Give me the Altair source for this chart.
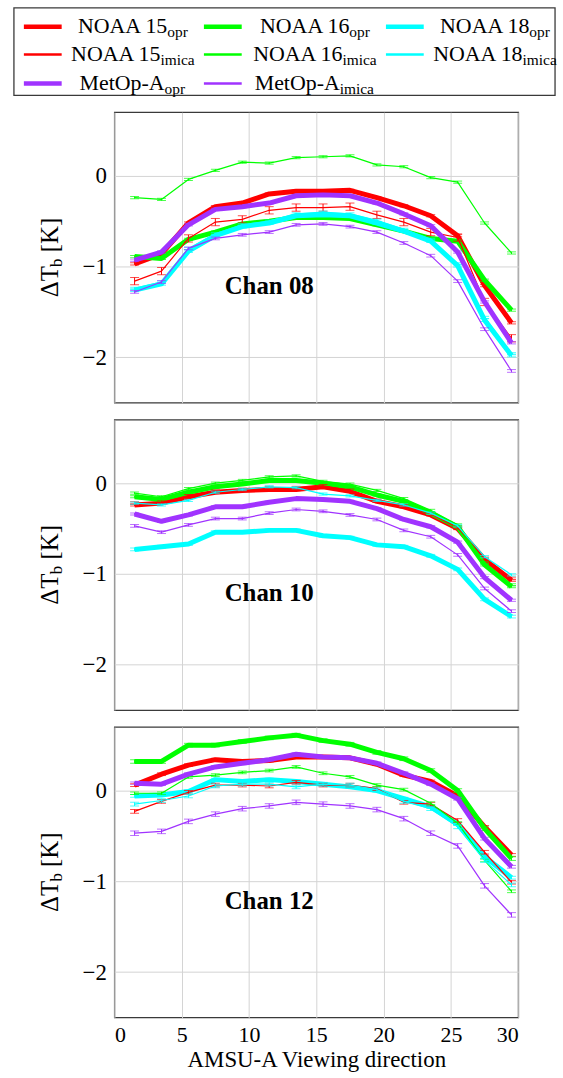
import altair as alt
import pandas as pd

# ---------------- data ----------------
x_dir = [1.5, 3.5, 5.5, 7.5, 9.5, 11.5, 13.5, 15.5, 17.5, 19.5, 21.5, 23.5, 25.5, 27.5, 29.5]

# Chan 08
c08_n15_opr   = [-0.97, -0.86, -0.52, -0.34, -0.30, -0.20, -0.17, -0.17, -0.16, -0.24, -0.33, -0.44, -0.66, -1.21, -1.62]
c08_n15_imica = [-1.16, -1.05, -0.69, -0.51, -0.48, -0.38, -0.35, -0.35, -0.34, -0.43, -0.51, -0.62, -0.68, -1.39, -1.79]
c08_n16_opr   = [-0.89, -0.91, -0.70, -0.62, -0.53, -0.50, -0.46, -0.46, -0.47, -0.54, -0.61, -0.69, -0.72, -1.15, -1.48]
c08_n16_imica = [-0.24, -0.26, -0.04, 0.06, 0.15, 0.14, 0.20, 0.21, 0.22, 0.12, 0.10, -0.02, -0.07, -0.52, -0.85]
c08_n18_opr   = [-1.26, -1.19, -0.83, -0.66, -0.56, -0.52, -0.44, -0.43, -0.44, -0.52, -0.61, -0.72, -0.99, -1.59, -1.98]
c08_n18_imica = [-1.24, -1.17, -0.80, -0.64, -0.54, -0.50, -0.42, -0.40, -0.42, -0.49, -0.59, -0.70, -0.97, -1.56, -1.96]
c08_met_opr   = [-0.93, -0.84, -0.54, -0.37, -0.34, -0.30, -0.22, -0.21, -0.22, -0.30, -0.42, -0.55, -0.84, -1.39, -1.84]
c08_met_imica = [-1.28, -1.17, -0.80, -0.69, -0.65, -0.62, -0.54, -0.53, -0.56, -0.62, -0.74, -0.88, -1.16, -1.69, -2.15]

# Chan 10
c10_n15_opr   = [-0.24, -0.22, -0.15, -0.10, -0.08, -0.07, -0.07, -0.04, -0.09, -0.20, -0.26, -0.35, -0.50, -0.84, -1.07]
c10_n15_imica = [-0.22, -0.21, -0.14, -0.09, -0.07, -0.05, -0.05, -0.03, -0.08, -0.19, -0.25, -0.34, -0.49, -0.83, -1.05]
c10_n16_opr   = [-0.15, -0.18, -0.10, -0.04, -0.01, 0.03, 0.03, 0.00, -0.04, -0.13, -0.20, -0.33, -0.48, -0.90, -1.14]
c10_n16_imica = [-0.11, -0.15, -0.06, 0.00, 0.03, 0.07, 0.08, 0.02, -0.01, -0.08, -0.17, -0.30, -0.46, -0.88, -1.12]
c10_n18_opr   = [-0.73, -0.70, -0.67, -0.54, -0.54, -0.52, -0.52, -0.58, -0.60, -0.68, -0.70, -0.80, -0.95, -1.28, -1.47]
c10_n18_imica = [-0.22, -0.24, -0.19, -0.10, -0.07, -0.04, -0.05, -0.12, -0.14, -0.19, -0.24, -0.33, -0.47, -0.81, -1.01]
c10_met_opr   = [-0.34, -0.42, -0.35, -0.26, -0.26, -0.21, -0.17, -0.18, -0.20, -0.28, -0.40, -0.48, -0.65, -1.04, -1.29]
c10_met_imica = [-0.47, -0.54, -0.46, -0.39, -0.39, -0.33, -0.29, -0.31, -0.35, -0.40, -0.52, -0.59, -0.79, -1.16, -1.41]

# Chan 12
c12_n15_opr   = [0.06, 0.18, 0.28, 0.34, 0.32, 0.33, 0.37, 0.37, 0.36, 0.29, 0.17, 0.10, -0.06, -0.40, -0.71]
c12_n15_imica = [-0.23, -0.12, -0.02, 0.06, 0.06, 0.05, 0.09, 0.06, 0.06, 0.02, -0.13, -0.15, -0.33, -0.68, -1.01]
c12_n16_opr   = [0.32, 0.32, 0.50, 0.50, 0.54, 0.58, 0.61, 0.55, 0.51, 0.42, 0.35, 0.22, 0.00, -0.42, -0.75]
c12_n16_imica = [-0.03, -0.03, 0.15, 0.17, 0.20, 0.22, 0.26, 0.19, 0.15, 0.06, 0.01, -0.14, -0.36, -0.77, -1.11]
c12_n18_opr   = [-0.06, -0.05, -0.01, 0.12, 0.10, 0.12, 0.10, 0.07, 0.04, 0.00, -0.09, -0.18, -0.37, -0.73, -0.96]
c12_n18_imica = [-0.15, -0.11, -0.06, 0.05, 0.07, 0.07, 0.04, 0.07, 0.06, 0.01, -0.12, -0.20, -0.40, -0.77, -1.04]
c12_met_opr   = [0.08, 0.07, 0.18, 0.26, 0.30, 0.34, 0.40, 0.37, 0.36, 0.30, 0.19, 0.07, -0.09, -0.53, -0.84]
c12_met_imica = [-0.47, -0.45, -0.34, -0.26, -0.20, -0.17, -0.13, -0.15, -0.17, -0.21, -0.31, -0.47, -0.61, -1.05, -1.37]

# error-bar half widths (one per series, per channel)
err08 = [0.012, 0.012, 0.015, 0.04, 0.012, 0.012, 0.012, 0.015]
err10 = [0.012, 0.012, 0.015, 0.015, 0.012, 0.012, 0.012, 0.015]
err12 = [0.015, 0.02, 0.015, 0.02, 0.015, 0.02, 0.015, 0.025]

series_keys = ["n15_opr", "n16_opr", "n18_opr", "n15_imica", "n16_imica", "n18_imica", "met_opr", "met_imica"]
series_main = ["NOAA 15", "NOAA 16", "NOAA 18", "NOAA 15", "NOAA 16", "NOAA 18", "MetOp-A", "MetOp-A"]
series_sub = ["opr", "opr", "opr", "imica", "imica", "imica", "opr", "imica"]
series_color = ["#ff0000", "#00ff00", "#00ffff", "#ff0000", "#00ff00", "#00ffff", "#a033ff", "#a033ff"]
series_thick = [True, True, True, False, False, False, True, False]

chan08 = [c08_n15_opr, c08_n16_opr, c08_n18_opr, c08_n15_imica, c08_n16_imica, c08_n18_imica, c08_met_opr, c08_met_imica]
chan10 = [c10_n15_opr, c10_n16_opr, c10_n18_opr, c10_n15_imica, c10_n16_imica, c10_n18_imica, c10_met_opr, c10_met_imica]
chan12 = [c12_n15_opr, c12_n16_opr, c12_n18_opr, c12_n15_imica, c12_n16_imica, c12_n18_imica, c12_met_opr, c12_met_imica]

x_ticks = [0, 5, 10, 15, 20, 25, 30]
y_ticks = [-2, -1, 0]

# ---------------- style ----------------
FONT = "Liberation Serif"
W, H = 406, 292
FRAME = "#3a3a3a"
GRID = "#d4d4d4"

TIMES = {'N': 722, 'O': 722, 'A': 722, ' ': 250, '1': 500, '5': 500, '6': 500, '8': 500,
         'M': 889, 'e': 444, 't': 278, 'p': 500, '-': 333, 'o': 500, 'r': 333, 'i': 278,
         'm': 778, 'c': 444, 'a': 444, 'Δ': 612, 'T': 611, 'b': 500, '[': 333, ']': 333, 'K': 722}


def text_w(s, size):
    return sum(TIMES.get(ch, 500) for ch in s) * size / 1000.0


xs = alt.Scale(domain=[0, 30], nice=False)
ys = alt.Scale(domain=[-2.5, 0.7], nice=False, zero=False)


def panel(label, values, errs, show_x):
    if show_x:
        xaxis = alt.Axis(values=x_ticks, grid=True, gridColor=GRID, ticks=False, domain=False,
                         labelFont=FONT, labelFontSize=22, labelColor="black", labelPadding=7,
                         title="AMSU-A Viewing direction", titleFont=FONT, titleFontSize=23,
                         titleFontWeight="normal", titleColor="black", titlePadding=3)
    else:
        xaxis = alt.Axis(values=x_ticks, grid=True, gridColor=GRID, ticks=False, domain=False,
                         labels=False, title=None)
    yaxis = alt.Axis(values=y_ticks, grid=True, gridColor=GRID, ticks=False, domain=False,
                     labelFont=FONT, labelFontSize=23, labelColor="black", labelPadding=8, title=None)

    def X(f):
        return alt.X(f, type="quantitative", scale=xs, axis=xaxis)

    def Y(f):
        return alt.Y(f, type="quantitative", scale=ys, axis=yaxis)

    layers = []
    for i in range(len(series_keys)):
        df = pd.DataFrame({"x": x_dir, "y": values[i]})
        df["lo"] = df["y"] - errs[i]
        df["hi"] = df["y"] + errs[i]
        base = alt.Chart(df)
        col = series_color[i]
        layers.append(base.mark_rule(color=col, strokeWidth=1).encode(x=X("x"), y=Y("lo"), y2="hi"))
        layers.append(base.mark_tick(color=col, orient="horizontal", size=9, thickness=1).encode(x=X("x"), y=Y("lo")))
        layers.append(base.mark_tick(color=col, orient="horizontal", size=9, thickness=1).encode(x=X("x"), y=Y("hi")))
        layers.append(base.mark_line(color=col, strokeWidth=5 if series_thick[i] else 1.2,
                                     strokeJoin="round").encode(x=X("x"), y=Y("y")))

    lab = pd.DataFrame({"x": [11.5], "y": [-1.3], "t": [label]})
    layers.append(alt.Chart(lab).mark_text(font=FONT, fontSize=25, fontWeight="bold", align="center",
                                           baseline="alphabetic", color="black")
                  .encode(x=X("x"), y=Y("y"), text="t:N"))

    # y title  "ΔT_b [K]" built from pieces (rotated)
    fs, fsub = 25, 17
    p1, p2, p3 = "ΔT", "b", "[K]"
    w1, w2, wsp, w3 = text_w(p1, fs), text_w(p2, fsub), text_w(" ", fs), text_w(p3, fs)
    y0 = H / 2 + (w1 + w2 + wsp + w3) / 2
    xb = -57
    layers.append(alt.Chart(pd.DataFrame({"t": [p1]})).mark_text(font=FONT, fontSize=fs, angle=270, align="left",
                                                                baseline="alphabetic", color="black")
                  .encode(x=alt.value(xb), y=alt.value(y0), text="t:N"))
    layers.append(alt.Chart(pd.DataFrame({"t": [p2]})).mark_text(font=FONT, fontSize=fsub, angle=270, align="left",
                                                                baseline="alphabetic", color="black")
                  .encode(x=alt.value(xb + 4), y=alt.value(y0 - w1), text="t:N"))
    layers.append(alt.Chart(pd.DataFrame({"t": [p3]})).mark_text(font=FONT, fontSize=fs, angle=270, align="left",
                                                                baseline="alphabetic", color="black")
                  .encode(x=alt.value(xb), y=alt.value(y0 - w1 - w2 - wsp), text="t:N"))

    return alt.layer(*layers).properties(width=W, height=H,
                                         view=alt.ViewBackground(stroke=FRAME, strokeWidth=1.3))


# ---------------- legend ----------------
LW, LH = 544, 88          # legend box size
line_start = [10, 191, 374]
line_len = 38
text_center = [119, 302, 483]
row_line_y = [19, 47, 76]
FS_L, FS_SUB = 22, 15.5

rows = []
for i in range(len(series_keys)):
    c, r = i % 3, i // 3
    wm = text_w(series_main[i], FS_L)
    wsub = text_w(series_sub[i], FS_SUB)
    anchor = text_center[c] - (wm + wsub) / 2 + wm
    rows.append({"x0": line_start[c], "x1": line_start[c] + line_len, "ly": row_line_y[r],
                 "ty": row_line_y[r] + 6.5, "anchor": anchor, "main": series_main[i],
                 "sub": series_sub[i], "color": series_color[i], "sw": 4.5 if series_thick[i] else 2.5})
leg = pd.DataFrame(rows)

lx = alt.Scale(domain=[0, LW], range=[-101, LW - 101])
ly = alt.Scale(domain=[0, LH], range=[0, LH])

box = alt.Chart(pd.DataFrame({"a": [0], "b": [LW], "c": [0], "d": [LH]})).mark_rect(
    fillOpacity=0, stroke=FRAME, strokeWidth=1.3).encode(
    x=alt.X("a:Q", scale=lx, axis=None), x2="b:Q",
    y=alt.Y("c:Q", scale=ly, axis=None), y2="d:Q")
samples = alt.Chart(leg).mark_rule().encode(
    x=alt.X("x0:Q", scale=lx, axis=None), x2="x1:Q",
    y=alt.Y("ly:Q", scale=ly, axis=None),
    color=alt.Color("color:N", scale=None),
    strokeWidth=alt.StrokeWidth("sw:Q", scale=None))
mains = alt.Chart(leg).mark_text(font=FONT, fontSize=FS_L, align="right", baseline="alphabetic",
                                 color="black").encode(
    x=alt.X("anchor:Q", scale=lx, axis=None), y=alt.Y("ty:Q", scale=ly, axis=None), text="main:N")
subs = alt.Chart(leg).mark_text(font=FONT, fontSize=FS_SUB, align="left", baseline="alphabetic",
                                color="black", dy=4).encode(
    x=alt.X("anchor:Q", scale=lx, axis=None), y=alt.Y("ty:Q", scale=ly, axis=None), text="sub:N")

legend = alt.layer(box, samples, mains, subs).properties(
    width=W, height=LH, view=alt.ViewBackground(strokeOpacity=0))

chart = alt.vconcat(
    legend,
    panel("Chan 08", chan08, err08, False),
    panel("Chan 10", chan10, err10, False),
    panel("Chan 12", chan12, err12, True),
    spacing=17, bounds="flush",
).properties(
    padding={"left": 13, "top": 4, "right": 6, "bottom": 0}
).configure(font=FONT, background="white")

chart.save("out.html", embed_options={"renderer": "svg", "actions": False})
